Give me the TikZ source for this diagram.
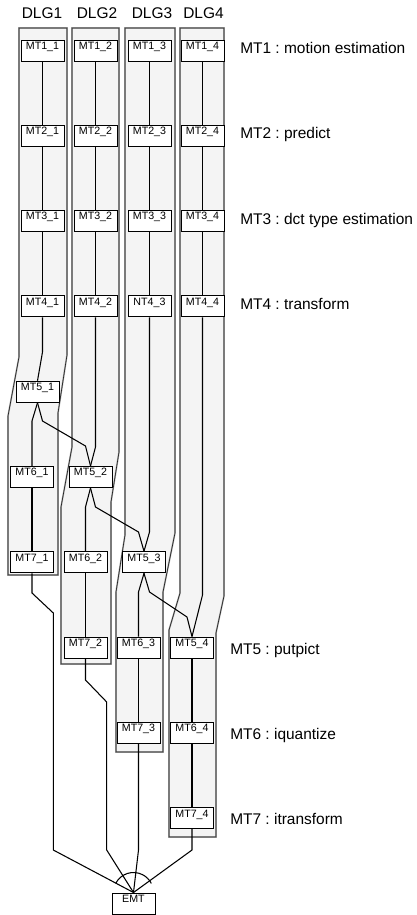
\documentclass[tikz,border=0pt]{standalone}
\usepackage{fontspec}
\setmainfont{Liberation Sans}
\frenchspacing
\definecolor{lanefill}{HTML}{F4F4F4}
\definecolor{laneedge}{HTML}{A8A8A8}
\begin{document}
\begin{tikzpicture}[x=0.75pt,y=-0.75pt,
  task/.style={draw=black, line width=0.75pt, fill=white, inner sep=0pt,
    minimum width=32.25pt, text height=6.975pt, text depth=8.775pt,
    font=\fontsize{8}{9}\selectfont},
  conn/.style={draw=black, line width=0.8pt, line join=miter},
  lane/.style={fill=lanefill, draw=laneedge, line width=1.2pt,
    postaction={draw=black!85, line width=0.5pt}},
  hdr/.style={font=\fontsize{11.6}{13}\selectfont, anchor=base, inner sep=0pt},
  desc/.style={font=\fontsize{11.6}{13}\selectfont, anchor=base west, inner sep=0pt}]
\useasboundingbox (0,0) rectangle (417,915);

% lanes
\path[lane] (19,28) -- (67,28) -- (67,355) -- (58,413) -- (58,575) -- (8,575) -- (8,416) -- (19,357) -- cycle;
\path[lane] (72,28) -- (119,28) -- (119,452) -- (111,502) -- (111,664) -- (61,664) -- (61,507) -- (72,447) -- cycle;
\path[lane] (125,28) -- (175,28) -- (175,533) -- (163,592) -- (163,752) -- (116,752) -- (116,592) -- (125,535) -- cycle;
\path[lane] (180,28) -- (224,28) -- (224,596) -- (216,633) -- (216,837) -- (169,837) -- (169,630) -- (180,593) -- cycle;

% headers
\node[hdr] (dlg1) at (42,18.3) {DLG1};
\node[hdr] (dlg2) at (97,18.3) {DLG2};
\node[hdr] (dlg3) at (152,18.3) {DLG3};
\node[hdr] (dlg4) at (203.5,18.3) {DLG4};

% upper rows
\node[task] (m11) at (42.5,50.5) {MT1\_1};
\node[task] (m12) at (95.5,50.5) {MT1\_2};
\node[task] (m13) at (149.5,50.5) {MT1\_3};
\node[task] (m14) at (202.5,50.5) {MT1\_4};
\node[task] (m21) at (42.5,135.8) {MT2\_1};
\node[task] (m22) at (95.5,135.8) {MT2\_2};
\node[task] (m23) at (149.5,135.8) {MT2\_3};
\node[task] (m24) at (202.5,135.8) {MT2\_4};
\node[task] (m31) at (42.5,221.1) {MT3\_1};
\node[task] (m32) at (95.5,221.1) {MT3\_2};
\node[task] (m33) at (149.5,221.1) {MT3\_3};
\node[task] (m34) at (202.5,221.1) {MT3\_4};
\node[task] (m41) at (42.5,306.4) {MT4\_1};
\node[task] (m42) at (95.5,306.4) {MT4\_2};
\node[task] (m43) at (149.5,306.4) {NT4\_3};
\node[task] (m44) at (202.5,306.4) {MT4\_4};

% lower rows
\node[task] (m51) at (37.5,391.7) {MT5\_1};
\node[task] (m61) at (32,477) {MT6\_1};
\node[task] (m71) at (32,562.3) {MT7\_1};
\node[task] (m52) at (90.5,477) {MT5\_2};
\node[task] (m62) at (85.5,562.3) {MT6\_2};
\node[task] (m72) at (85.5,647.6) {MT7\_2};
\node[task] (m53) at (144,562.3) {MT5\_3};
\node[task] (m63) at (138.5,647.6) {MT6\_3};
\node[task] (m73) at (138.5,732.9) {MT7\_3};
\node[task] (m54) at (192,647.6) {MT5\_4};
\node[task] (m64) at (192,732.9) {MT6\_4};
\node[task] (m74) at (192,818.2) {MT7\_4};
\node[task] (emt) at (133.5,903.5) {EMT};

% vertical connectors
\foreach \c in {1,2,3,4}{
  \draw[conn] (m1\c) -- (m2\c);
  \draw[conn] (m2\c) -- (m3\c);
  \draw[conn] (m3\c) -- (m4\c);
}
\draw[conn] (m61) -- (m71);
\draw[conn] (m62) -- (m72);
\draw[conn] (m63) -- (m73);
\draw[conn] (m54) -- (m64);
\draw[conn] (m64) -- (m74);

% bent connectors
\draw[conn] (m41.south) -- (42.5,352) -- (m51.north);
\draw[conn] (m42.south) -- (95.5,447) -- (m52.north);
\draw[conn] (m43.south) -- (149.5,532) -- (m53.north);
\draw[conn] (m44.south) -- (202.5,595) -- (m54.north);
\draw[conn] (m51.south) -- (32,421) -- (m61.north);
\draw[conn] (m51.south) -- (42.5,421) -- (85.5,446) -- (m52.north);
\draw[conn] (m52.south) -- (85.5,507) -- (m62.north);
\draw[conn] (m52.south) -- (95.5,507) -- (138.5,532) -- (m53.north);
\draw[conn] (m53.south) -- (138.5,592) -- (m63.north);
\draw[conn] (m53.south) -- (149.5,592) -- (187,617) -- (m54.north);

% to EMT
\draw[conn] (m71.south) -- (32,593) -- (53.3,613) -- (53.3,850) -- (emt.north);
\draw[conn] (m72.south) -- (85.5,680) -- (106.7,702) -- (106.7,850) -- (emt.north);
\draw[conn] (m73.south) -- (138.5,850) -- (emt.north);
\draw[conn] (m74.south) -- (192,850) -- (emt.north);
\draw[conn] (emt.north) ++(153:15pt) arc[start angle=153, end angle=27, radius=15pt];

% descriptions
\node[desc] (d1) at (240,53.5) {MT1 : motion estimation};
\node[desc] (d2) at (240,138.8) {MT2 : predict};
\node[desc] (d3) at (240,224.1) {MT3 : dct type estimation};
\node[desc] (d4) at (240,309.4) {MT4 : transform};
\node[desc] (d5) at (230,654.1) {MT5 : putpict};
\node[desc] (d6) at (230,739.4) {MT6 : iquantize};
\node[desc] (d7) at (230,824.7) {MT7 : itransform};
\end{tikzpicture}
\end{document}
